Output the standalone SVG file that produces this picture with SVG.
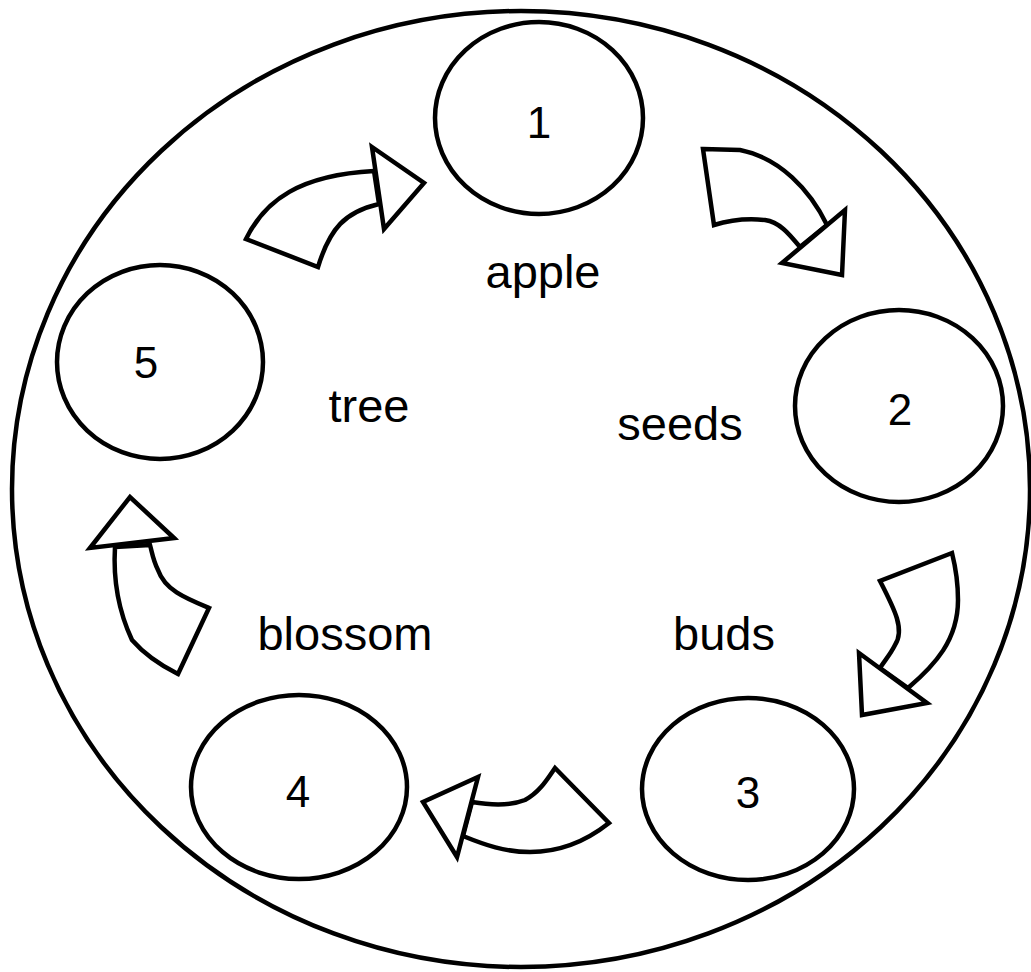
<svg xmlns="http://www.w3.org/2000/svg" width="1031" height="972" viewBox="0 0 1031 972">
<style>
.outline{fill:none;stroke:#000;stroke-width:4.5}
.node{fill:#fff;stroke:#000;stroke-width:4.5}
.arrow{fill:#fff;stroke:#000;stroke-width:4.5;stroke-linejoin:miter}
.num{font-family:"Liberation Sans",Arial,sans-serif;font-size:44px;fill:#000;text-anchor:middle}
.lbl{font-family:"Liberation Sans",Arial,sans-serif;font-size:47px;fill:#000;text-anchor:middle}
</style>
<rect width="1031" height="972" fill="#fff"/>
<ellipse id="outer" class="outline" cx="521" cy="489" rx="509" ry="478"/>
<g id="labels">
<text class="lbl" x="543" y="288">apple</text>
<text class="lbl" x="369" y="422">tree</text>
<text class="lbl" x="680" y="440">seeds</text>
<text class="lbl" x="345" y="650">blossom</text>
<text class="lbl" x="724" y="650">buds</text>
</g>
<g id="node1"><ellipse class="node" cx="539" cy="118" rx="104" ry="96"/><text class="num" x="539" y="138">1</text></g>
<g id="node2"><ellipse class="node" cx="899" cy="406" rx="104" ry="96"/><text class="num" x="900" y="425">2</text></g>
<g id="node3"><ellipse class="node" cx="748" cy="789" rx="106" ry="91"/><text class="num" x="748" y="808">3</text></g>
<g id="node4"><ellipse class="node" cx="299" cy="787" rx="108" ry="92"/><text class="num" x="298" y="807">4</text></g>
<g id="node5"><ellipse class="node" cx="160" cy="362" rx="103" ry="97"/><text class="num" x="146" y="378">5</text></g>
<g id="connectors">
<g id="arrow-5-1">
<path class="arrow" d="M246,239 C265,200 300,175 374,171 L379,204 C345,212 330,228 318,267 Z"/>
<polygon class="arrow" points="372,147 424,183 384,229"/>
</g>
<g id="arrow-1-2">
<path class="arrow" d="M703,149 L740,150 C780,158 810,190 827,225 L800,247 C790,235 780,222 765,220 C745,218 730,220 714,225 Z"/>
<polygon class="arrow" points="845,210 842,275 782,263"/>
</g>
<g id="arrow-2-3">
<path class="arrow" d="M952,553 L880,581 C895,610 905,630 895,645 C890,655 885,660 880,668 L908,688 C935,665 958,640 958,600 C958,580 955,565 952,553 Z"/>
<polygon class="arrow" points="859,653 862,715 927,703"/>
</g>
<g id="arrow-3-4">
<path class="arrow" d="M555,768 L609,823 C585,842 560,852 530,852 C505,852 485,845 463,836 L472,802 C490,805 510,806 525,800 C540,792 548,778 555,768 Z"/>
<polygon class="arrow" points="457,857 423,802 478,777"/>
</g>
<g id="arrow-4-5">
<path class="arrow" d="M178,674 L209,608 C185,598 165,590 158,570 C153,560 152,552 150,545 L115,547 C113,580 118,610 132,640 C145,655 160,665 178,674 Z"/>
<polygon class="arrow" points="174,538 130,497 90,548"/>
</g>
</g>
</svg>
